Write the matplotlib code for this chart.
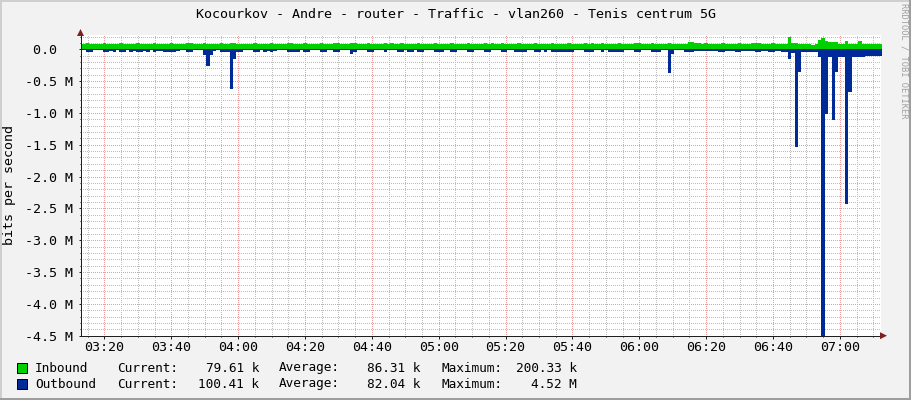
import numpy as np
import matplotlib
matplotlib.use('Agg')
import matplotlib.pyplot as plt
from matplotlib.ticker import FuncFormatter, MultipleLocator
from matplotlib.patches import Polygon, Rectangle

title = 'Kocourkov - Andre - router - Traffic - vlan260 - Tenis centrum 5G'

# one sample per minute, first sample ends at 03:14:30
start_minute = 193.5

inbound_k = [
    80, 81, 101, 82, 80, 79, 80, 99, 81, 80, 79, 80, 100, 81, 80, 79, 80, 102, 81, 80,
    79, 80, 100, 81, 80, 79, 80, 99, 81, 80, 79, 80, 101, 98, 81, 80, 79, 100, 81, 80,
    79, 80, 101, 81, 80, 100, 102, 83, 80, 79, 80, 80, 100, 81, 80, 79, 80, 99, 81, 80,
    79, 80, 100, 99, 81, 80, 79, 100, 81, 80, 79, 80, 101, 81, 80, 79, 99, 101, 81, 80,
    79, 100, 99, 81, 80, 79, 100, 81, 80, 79, 80, 101, 81, 98, 80, 79, 100, 81, 80, 79,
    80, 100, 81, 80, 79, 80, 101, 81, 80, 79, 80, 100, 81, 80, 79, 80, 99, 81, 80, 79,
    80, 101, 81, 99, 80, 80, 100, 82, 80, 79, 80, 101, 81, 80, 79, 80, 100, 81, 80, 79,
    80, 101, 81, 80, 79, 80, 102, 81, 80, 79, 80, 100, 81, 99, 80, 80, 100, 81, 80, 79,
    80, 101, 81, 80, 79, 80, 100, 101, 81, 80, 79, 100, 81, 80, 79, 80, 101, 81, 80, 79,
    80, 82, 115, 116, 96, 95, 84, 100, 84, 82, 81, 82, 96, 83, 82, 81, 82, 95, 83, 82,
    82, 93, 94, 92, 82, 81, 82, 96, 82, 81, 82, 83, 200, 102, 99, 86, 85, 84, 76, 75,
    76, 140, 176, 130, 110, 108, 111, 86, 84, 126, 89, 88, 87, 135, 86, 85, 86, 83, 81, 79.61,
]

outbound_k = [
    12, 11, 40, 38, 12, 11, 12, 40, 35, 20, 35, 12, 40, 38, 12, 35, 20, 40, 40, 25,
    35, 12, 40, 30, 20, 35, 35, 40, 35, 25, 12, 11, 40, 38, 12, 11, 12, 85, 260, 85,
    30, 12, 40, 38, 35, 630, 155, 40, 38, 12, 11, 12, 40, 38, 12, 40, 25, 40, 30, 12,
    11, 12, 40, 38, 36, 35, 12, 40, 38, 12, 11, 12, 40, 38, 12, 11, 40, 38, 12, 11,
    12, 67, 40, 12, 11, 12, 40, 38, 12, 11, 12, 40, 12, 11, 12, 38, 40, 12, 36, 35,
    12, 40, 38, 12, 11, 12, 40, 38, 36, 12, 11, 40, 38, 12, 11, 12, 40, 38, 12, 11,
    12, 40, 38, 12, 11, 12, 40, 38, 12, 11, 36, 40, 38, 35, 12, 11, 40, 38, 12, 35,
    12, 38, 40, 36, 38, 35, 40, 38, 12, 11, 12, 40, 38, 36, 12, 11, 40, 12, 35, 36,
    36, 40, 38, 12, 11, 12, 40, 38, 12, 11, 12, 40, 38, 36, 12, 11, 380, 80, 14, 12,
    12, 35, 35, 35, 20, 19, 20, 21, 20, 19, 20, 38, 38, 20, 19, 20, 38, 38, 20, 19,
    20, 21, 38, 38, 20, 19, 38, 38, 20, 21, 45, 45, 150, 60, 1530, 350, 40, 41, 40, 40,
    40, 125, 4520, 1010, 125, 1110, 360, 125, 125, 2430, 670, 120, 121, 120, 119, 110, 110, 102, 102, 100.41,
]

legend_names = ['Inbound', 'Outbound']
legend_colors = ['#00CF00', '#002A97']
legend_current = ['79.61 k', '100.41 k']
legend_average = ['86.31 k', '82.04 k']
legend_maximum = ['200.33 k', '4.52 M']

W, H = 911, 400
MONO = 'DejaVu Sans Mono'
plt.rcParams['font.family'] = MONO


def fx(px):
    return px / W


def fy(py):
    return 1 - py / H


def fmt_time(value, pos):
    m = int(round(value))
    return f'{m // 60:02d}:{m % 60:02d}'


def fmt_bits(value, pos):
    if abs(value) < 1:
        return '0.0  '
    return f'{value / 1e6:.1f} M'


fig = plt.figure(figsize=(W / 100, H / 100), dpi=100, facecolor='#F2F2F2')
ax = fig.add_axes([fx(81), fy(335.7), fx(881) - fx(81), fy(35.3) - fy(335.7)])
ax.set_facecolor('white')

x_left, x_right = 193.0, 432.3
n = len(inbound_k)
edges = start_minute + np.arange(n + 1) - 1
edges[0] = x_left

inb = np.array(inbound_k) * 1000
out = -np.array(outbound_k) * 1000
ax.fill_between(edges, 0, np.append(inb, inb[-1]), step='post',
                color=legend_colors[0], lw=0, zorder=3)
ax.fill_between(edges, 0, np.append(out, out[-1]), step='post',
                color=legend_colors[1], lw=0, zorder=3)

ax.set_xlim(x_left, x_right)
ax.set_ylim(-4.5e6, 0.22e6)

ax.xaxis.set_major_locator(MultipleLocator(20))
ax.xaxis.set_minor_locator(MultipleLocator(5))
ax.yaxis.set_major_locator(MultipleLocator(0.5e6))
ax.yaxis.set_minor_locator(MultipleLocator(0.1e6))
ax.xaxis.set_major_formatter(FuncFormatter(fmt_time))
ax.yaxis.set_major_formatter(FuncFormatter(fmt_bits))

ax.set_axisbelow(True)
ax.grid(which='minor', color='#BDBDBD', lw=0.72, linestyle=(0, (1, 2)), antialiased=False)
ax.grid(which='major', color='#EC9C9C', lw=0.72, linestyle=(0, (1, 2)), antialiased=False)

for side in ['top', 'right']:
    ax.spines[side].set_visible(False)
for side in ['left', 'bottom']:
    ax.spines[side].set_color('#1F1F1F')
    ax.spines[side].set_linewidth(0.72)
    ax.spines[side].set_zorder(4)

ax.tick_params(which='major', direction='out', length=1.8, width=0.72,
               color='#1F1F1F', labelsize=9.6)
ax.tick_params(which='minor', direction='out', length=1.0, width=0.72, color='#1F1F1F')
ax.tick_params(axis='y', which='major', pad=4.0)
ax.tick_params(axis='x', which='major', pad=2.0)

# axis arrows
arrow_col = '#7F1F1F'
fig.add_artist(Polygon([(fx(77), fy(36)), (fx(84), fy(36)), (fx(80.5), fy(29))],
                       closed=True, transform=fig.transFigure, color=arrow_col, lw=0))
fig.add_artist(Polygon([(fx(880), fy(332.2)), (fx(880), fy(339.2)), (fx(887), fy(335.7))],
                       closed=True, transform=fig.transFigure, color=arrow_col, lw=0))

# frame shading
fig.add_artist(Rectangle((0, fy(2)), 1, 2 / H, transform=fig.transFigure, color='#CFCFCF', lw=0))
fig.add_artist(Rectangle((0, 0), 2 / W, 1, transform=fig.transFigure, color='#CFCFCF', lw=0))
fig.add_artist(Rectangle((0, 0), 1, 2 / H, transform=fig.transFigure, color='#9E9E9E', lw=0))
fig.add_artist(Rectangle((fx(909), 0), 2 / W, 1, transform=fig.transFigure, color='#9E9E9E', lw=0))

fig.text(0.5, fy(15), title, ha='center', va='center', fontsize=9.6, color='black')
fig.text(fx(10), fy(185), 'bits per second', rotation=90, ha='center', va='center', fontsize=9.6)
fig.text(fx(904), fy(61), 'RRDTOOL / TOBI OETIKER', rotation=270, ha='center', va='center',
         fontsize=6.3, color='#A0A0A0')

# legend: label columns left-aligned, value columns right-aligned
LEG_FS = 9.2
for k, name in enumerate(legend_names):
    yc = 368 + 16 * k
    fig.add_artist(Rectangle((fx(17), fy(yc + 5)), 10 / W, 10 / H, transform=fig.transFigure,
                             facecolor=legend_colors[k], edgecolor='black', lw=0.72))
    fig.text(fx(35), fy(yc), name, ha='left', va='center', fontsize=LEG_FS)
    fig.text(fx(117), fy(yc), 'Current:', ha='left', va='center', fontsize=LEG_FS)
    fig.text(fx(259), fy(yc), legend_current[k], ha='right', va='center', fontsize=LEG_FS)
    fig.text(fx(279), fy(yc), 'Average:', ha='left', va='center', fontsize=LEG_FS)
    fig.text(fx(420), fy(yc), legend_average[k], ha='right', va='center', fontsize=LEG_FS)
    fig.text(fx(441), fy(yc), 'Maximum:', ha='left', va='center', fontsize=LEG_FS)
    fig.text(fx(577), fy(yc), legend_maximum[k], ha='right', va='center', fontsize=LEG_FS)

fig.savefig('out.png', dpi=100, facecolor=fig.get_facecolor())
